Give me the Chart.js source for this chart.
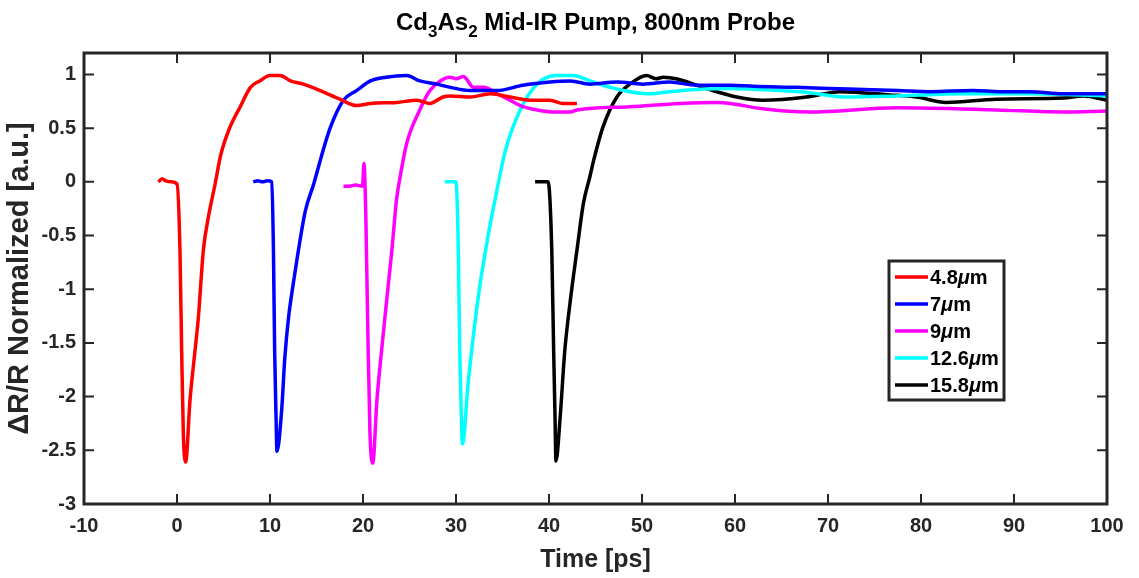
<!DOCTYPE html>
<html>
<head>
<meta charset="utf-8">
<title>Cd3As2 Mid-IR Pump, 800nm Probe</title>
<script src="https://cdn.jsdelivr.net/npm/chart.js@4.4.1/dist/chart.umd.min.js"></script>
<style>
  html, body { margin: 0; padding: 0; background: #ffffff; }
  #wrap { width: 1139px; height: 578px; }
</style>
</head>
<body>
<div id="wrap"><canvas id="chart"></canvas></div>
<script>
// Axis ticks
const xTicks = [-10, 0, 10, 20, 30, 40, 50, 60, 70, 80, 90, 100];
const yTicks = [-3, -2.5, -2, -1.5, -1, -0.5, 0, 0.5, 1];

// Legend labels
const seriesNames = ['4.8\u03bcm', '7\u03bcm', '9\u03bcm', '12.6\u03bcm', '15.8\u03bcm'];
const seriesColors = ['#ff0000', '#0000ff', '#ff00ff', '#00ffff', '#000000'];

// 4.8 um pump
const t48 = [-2.0, -1.6, -1.2, -0.6, 0.0, 0.32, 0.5, 0.68, 0.93, 1.4, 1.94, 2.3, 2.83, 3.37, 4.1, 4.7,
  5.7, 6.8, 7.9, 8.9, 10.0, 11.1, 12.2, 13.6, 15.4, 17.5, 19.3, 20.8, 23.6, 25.8, 27.2, 28.6, 29.4,
  31.5, 33.7, 35.8, 38.0, 40.1, 41.5, 43.0];
const r48 = [0.0, 0.03, 0.01, 0.0, -0.02, -0.64, -1.57, -2.34, -2.61, -2.03, -1.57, -1.26, -0.64, -0.33, -0.02, 0.25,
  0.51, 0.70, 0.88, 0.94, 0.99, 0.99, 0.94, 0.91, 0.85, 0.77, 0.71, 0.73, 0.74, 0.76, 0.73, 0.79, 0.80,
  0.79, 0.82, 0.79, 0.76, 0.76, 0.73, 0.73];

// 7 um pump
const t7 = [8.2, 8.7, 9.2, 9.7, 10.2, 10.37, 10.5, 10.65, 10.75, 11.25, 11.6, 12.0, 12.5, 13.05, 13.8, 14.7,
  15.7, 16.5, 17.9, 19.3, 20.8, 22.5, 24.7, 26.1, 27.9, 29.4, 31.5, 34.4, 37.2, 40.1, 42.3, 44.4, 47.3,
  50.1, 53.0, 55.9, 59.5, 62.0, 66.6, 70.0, 73.8, 77.5, 81.0, 85.6, 88.5, 91.7, 95.3, 100];
const r7 = [0.0, 0.01, 0.0, 0.01, 0.0, -0.64, -1.57, -2.19, -2.51, -2.13, -1.63, -1.26, -0.95, -0.64, -0.27, -0.02,
  0.29, 0.51, 0.76, 0.85, 0.94, 0.975, 0.99, 0.94, 0.91, 0.88, 0.85, 0.85, 0.90, 0.93, 0.94, 0.91, 0.93,
  0.91, 0.93, 0.90, 0.90, 0.89, 0.88, 0.87, 0.86, 0.85, 0.84, 0.85, 0.84, 0.84, 0.82, 0.82];

// 9 um pump
const t9 = [17.9, 18.5, 19.2, 19.95, 20.1, 20.3, 20.5, 20.75, 21.05, 21.5, 22.0, 22.55, 23.1, 23.6, 24.0,
  24.7, 26.1, 27.2, 28.3, 29.35, 30.0, 30.8, 31.9, 33.0, 34.4, 35.8, 37.2, 38.7, 40.8, 42.3, 43.0,
  48.7, 54.1, 58.0, 59.5, 63.0, 68.0, 77.4, 88.1, 95.3, 100];
const r9 = [-0.04, -0.04, -0.03, -0.04, 0.17, -0.3, -1.3, -2.34, -2.62, -2.03, -1.57, -1.1, -0.64, -0.17, 0.05,
  0.36, 0.67, 0.85, 0.94, 0.975, 0.96, 0.98, 0.88, 0.88, 0.82, 0.76, 0.70, 0.67, 0.65, 0.65, 0.67,
  0.70, 0.73, 0.74, 0.73, 0.68, 0.65, 0.69, 0.67, 0.65, 0.66];

// 12.6 um pump
const t126 = [28.8, 29.2, 29.6, 30.0, 30.25, 30.4, 30.55, 30.7, 31.3, 31.9, 32.6, 33.5, 34.4, 35.3, 36.9,
  38.7, 40.8, 42.6, 44.4, 46.6, 48.7, 50.9, 53.0, 55.9, 59.5, 64.8, 68.0, 72.0, 77.4, 84.5, 91.7, 100];
const r126 = [0.0, 0.0, 0.0, 0.0, -0.64, -1.57, -2.1, -2.44, -1.88, -1.41, -0.95, -0.48, -0.08, 0.29, 0.67,
  0.91, 0.99, 0.99, 0.94, 0.88, 0.84, 0.82, 0.84, 0.86, 0.87, 0.85, 0.83, 0.79, 0.80, 0.82, 0.82, 0.80];

// 15.8 um pump
const t158 = [38.5, 39.0, 39.5, 39.9, 40.3, 40.5, 40.65, 40.75, 41.2, 41.7, 42.3, 43.0, 43.7, 44.4, 44.8,
  45.8, 47.3, 48.7, 50.5, 51.5, 52.3, 53.7, 55.9, 58.0, 60.2, 63.0, 67.7, 71.3, 76.7, 79.5, 82.7,
  88.1, 95.3, 97.5, 100];
const r158 = [0.0, 0.0, 0.0, 0.0, -0.64, -1.57, -2.2, -2.6, -2.19, -1.57, -1.1, -0.64, -0.2, 0.05, 0.2,
  0.51, 0.79, 0.91, 0.99, 0.96, 0.975, 0.96, 0.90, 0.84, 0.79, 0.76, 0.79, 0.84, 0.81, 0.79, 0.74,
  0.77, 0.78, 0.80, 0.76];

const seriesT = [t48, t7, t9, t126, t158];
const seriesR = [r48, r7, r9, r126, r158];

const FONT = "'Liberation Sans', Arial, Helvetica, sans-serif";
const AXIS_COLOR = '#262626';

// title with real subscripts, centered over the plot area
const titleParts = [['Cd', false], ['3', true], ['As', false], ['2', true], [' Mid-IR Pump, 800nm Probe', false]];
const titlePlugin = {
  id: 'subTitle',
  afterDraw(chart) {
    const { ctx, chartArea: a } = chart;
    const big = 'bold 24px ' + FONT;
    const small = 'bold 17px ' + FONT;
    ctx.save();
    ctx.fillStyle = '#000000';
    ctx.textBaseline = 'alphabetic';
    ctx.textAlign = 'left';
    let total = 0;
    titleParts.forEach(([s, sub]) => { ctx.font = sub ? small : big; total += ctx.measureText(s).width; });
    let x = (a.left + a.right) / 2 - total / 2;
    const base = 30;
    titleParts.forEach(([s, sub]) => {
      ctx.font = sub ? small : big;
      ctx.fillText(s, x, sub ? base + 7 : base);
      x += ctx.measureText(s).width;
    });
    ctx.restore();
  }
};

// frame with inward ticks on all four sides
const framePlugin = {
  id: 'frame',
  afterDatasetsDraw(chart) {
    const { ctx, chartArea: a, scales } = chart;
    const tickLen = 10;
    ctx.save();
    ctx.strokeStyle = AXIS_COLOR;
    ctx.lineWidth = 2;
    ctx.beginPath();
    xTicks.forEach(v => {
      const px = scales.x.getPixelForValue(v);
      ctx.moveTo(px, a.bottom);
      ctx.lineTo(px, a.bottom - tickLen);
      ctx.moveTo(px, a.top);
      ctx.lineTo(px, a.top + tickLen);
    });
    yTicks.forEach(v => {
      const py = scales.y.getPixelForValue(v);
      ctx.moveTo(a.left, py);
      ctx.lineTo(a.left + tickLen, py);
      ctx.moveTo(a.right, py);
      ctx.lineTo(a.right - tickLen, py);
    });
    ctx.stroke();
    ctx.lineWidth = 3;
    ctx.strokeRect(a.left, a.top, a.right - a.left, a.bottom - a.top);
    ctx.restore();
  }
};

// boxed legend in the lower right of the plot
const boxLegendPlugin = {
  id: 'boxLegend',
  afterDraw(chart) {
    const { ctx, chartArea: a } = chart;
    const boxW = 115, boxH = 139;
    const left = a.right - 103 - boxW;
    const top = 261;
    const rowH = 27;
    const plain = 'bold 20px ' + FONT;
    const ital = 'italic bold 20px ' + FONT;
    ctx.save();
    ctx.fillStyle = '#ffffff';
    ctx.fillRect(left, top, boxW, boxH);
    ctx.strokeStyle = AXIS_COLOR;
    ctx.lineWidth = 3;
    ctx.strokeRect(left, top, boxW, boxH);
    ctx.textBaseline = 'middle';
    ctx.textAlign = 'left';
    chart.data.datasets.forEach((ds, i) => {
      const cy = top + 16 + i * rowH;
      ctx.strokeStyle = ds.borderColor;
      ctx.lineWidth = 3.5;
      ctx.beginPath();
      ctx.moveTo(left + 6, cy);
      ctx.lineTo(left + 39, cy);
      ctx.stroke();
      ctx.fillStyle = '#000000';
      const [num, rest] = ds.label.split('\u03bc');
      let x = left + 41;
      ctx.font = plain;
      ctx.fillText(num, x, cy + 1);
      x += ctx.measureText(num).width;
      ctx.font = ital;
      ctx.fillText('\u03bc', x, cy + 1);
      x += ctx.measureText('\u03bc').width;
      ctx.font = plain;
      ctx.fillText(rest, x, cy + 1);
    });
    ctx.restore();
  }
};

const datasets = seriesNames.map((name, i) => ({
  label: name,
  data: seriesT[i].map((t, j) => ({ x: t, y: seriesR[i][j] })),
  borderColor: seriesColors[i],
  backgroundColor: seriesColors[i],
  borderWidth: 3.5,
  pointRadius: 0,
  fill: false,
  cubicInterpolationMode: 'monotone'
}));

new Chart(document.getElementById('chart'), {
  type: 'line',
  data: { datasets },
  plugins: [framePlugin, boxLegendPlugin, titlePlugin],
  options: {
    responsive: true,
    maintainAspectRatio: false,
    animation: false,
    layout: { padding: { left: 0, right: 32, top: 53, bottom: 0 } },
    plugins: {
      legend: { display: false },
      tooltip: { enabled: false },
      title: { display: false }
    },
    scales: {
      x: {
        type: 'linear',
        min: -10,
        max: 100,
        afterBuildTicks: s => { s.ticks = xTicks.map(v => ({ value: v })); },
        afterFit: s => { s.height = 74; },
        grid: { display: false, drawTicks: false },
        border: { display: false },
        ticks: {
          color: AXIS_COLOR,
          padding: 10,
          maxRotation: 0,
          font: { family: FONT, size: 20, weight: 'bold' },
          callback: v => String(v)
        },
        title: {
          display: true,
          text: 'Time [ps]',
          color: AXIS_COLOR,
          font: { family: FONT, size: 25, weight: 'bold' },
          padding: { top: 0, bottom: 3 }
        }
      },
      y: {
        type: 'linear',
        min: -3,
        max: 1.2,
        afterBuildTicks: s => { s.ticks = yTicks.map(v => ({ value: v })); },
        afterFit: s => { s.width = 84; },
        grid: { display: false, drawTicks: false },
        border: { display: false },
        ticks: {
          color: AXIS_COLOR,
          padding: 8,
          font: { family: FONT, size: 20, weight: 'bold' },
          callback: v => String(v)
        },
        title: {
          display: true,
          text: '\u0394R/R Normalized [a.u.]',
          color: AXIS_COLOR,
          font: { family: FONT, size: 29, weight: 'bold' },
          padding: { top: 3, bottom: 0 }
        }
      }
    }
  }
});
</script>
</body>
</html>
